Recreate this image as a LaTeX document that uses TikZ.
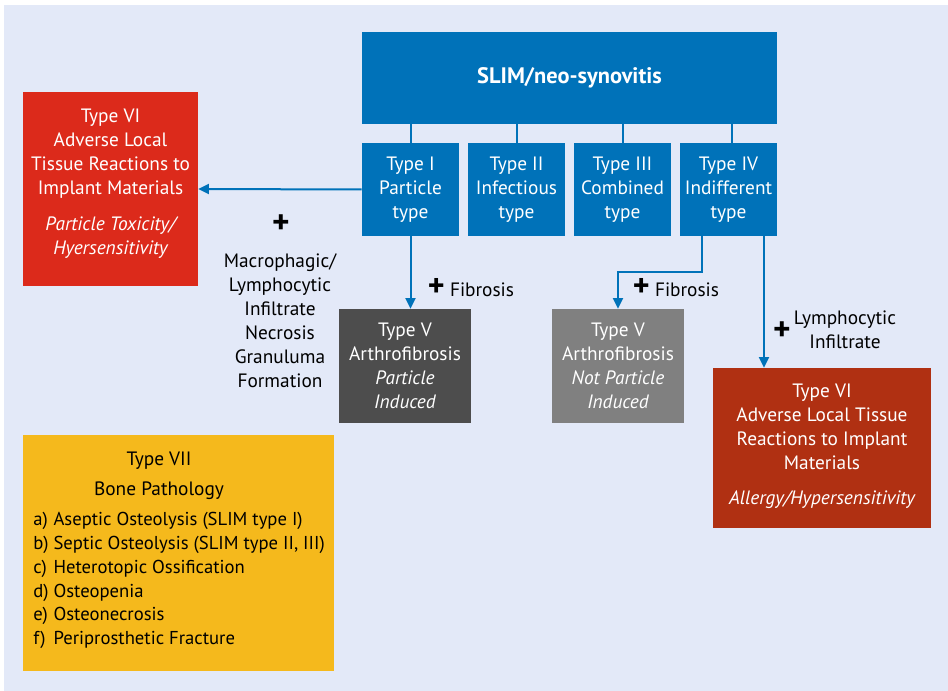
\documentclass[tikz,border=0pt]{standalone}
\usepackage{fontspec}
\setmainfont{PT Sans}
\usetikzlibrary{arrows.meta}
\definecolor{bgblue}{RGB}{227,233,248}
\definecolor{slimblue}{RGB}{0,114,185}
\definecolor{redsix}{RGB}{220,42,27}
\definecolor{rustsix}{RGB}{176,48,18}
\definecolor{darkfive}{RGB}{77,77,77}
\definecolor{grayfive}{RGB}{128,128,128}
\definecolor{yellowseven}{RGB}{245,185,28}
\newcommand{\bigplus}{{\fontsize{24}{18}\selectfont\bfseries +}}

\begin{document}
\begin{tikzpicture}[x=0.75pt,y=0.75pt,yscale=-1,xscale=1,
    box/.style={inner sep=0pt, align=center, text=white, font=\fontsize{14.5}{18}\selectfont},
    typebox/.style={box, fill=slimblue, minimum width=72.75pt, minimum height=69.75pt},
    label/.style={inner sep=0.75pt, align=center, font=\fontsize{14.5}{18}\selectfont},
    plus/.style={inner sep=0pt, font=\fontsize{25}{25}\selectfont\bfseries},
    link/.style={slimblue, line width=1.5pt},
    flow/.style={link, -{Triangle[width=7.5pt,length=8pt]}}]
    \useasboundingbox (0,0) rectangle (948,691);
    %Shape: Rectangle [background]
    \fill [bgblue] (4,5) rectangle (948,691);

    %Shape: Rectangle [SLIM]
    \node [box, fill=slimblue, minimum width=311.25pt, minimum height=69pt, font=\fontsize{16.8}{18}\selectfont\bfseries] (slim) at (569.5,78) {SLIM/neo-synovitis};
    %Shape: Rectangle [types I-IV]
    \node [typebox] (tone) at (410.5,189.5) {Type I\\Particle\\type};
    \node [typebox] (ttwo) at (516.5,189.5) {Type II\\Infectious\\type};
    \node [typebox] (tthree) at (622.5,189.5) {Type III\\Combined\\type};
    \node [typebox] (tfour) at (728.5,189.5) {Type IV\\Indifferent\\type};
    %Shape: Rectangle [type VI, left]
    \node [box, fill=redsix, minimum width=131.25pt, minimum height=145.5pt] (sixleft) at (110.5,189) {};
    \node [box] (sixlefttext) at ([yshift=-3.75pt]sixleft.center) {Type VI\\Adverse Local\\Tissue Reactions to\\Implant Materials\\[9pt]\itshape Particle Toxicity/\\\itshape Hyersensitivity};
    %Shape: Rectangle [type V]
    \node [box, fill=darkfive, minimum width=99pt, minimum height=85.5pt] (fivepart) at (405,366) {Type V\\Arthrofibrosis\\\itshape Particle\\\itshape Induced};
    \node [box, fill=grayfive, minimum width=99pt, minimum height=85.5pt] (fivenot) at (618,366) {Type V\\Arthrofibrosis\\\itshape Not Particle\\\itshape Induced};
    %Shape: Rectangle [type VI, right]
    \node [box, fill=rustsix, minimum width=163.5pt, minimum height=120pt] (sixright) at (822,448) {};
    \node [box] (sixrighttext) at ([yshift=-1.5pt]sixright.center) {Type VI\\Adverse Local Tissue\\Reactions to Implant\\Materials\\[8pt]\itshape Allergy/Hypersensitivity};
    %Shape: Rectangle [type VII]
    \node [fill=yellowseven, minimum width=233.25pt, minimum height=177pt, inner sep=0pt] (seven) at (178.5,553) {};

    %Connectors
    \foreach \t in {tone,ttwo,tthree}
        \draw [link] (\t.north) -- (\t.north |- slim.south);
    \draw [link] ([xshift=2.6pt]tfour.north) -- ([xshift=2.6pt]tfour.north |- slim.south);
    \draw [flow] (tone.west) -- (sixleft.east);
    \draw [flow] (tone.south) -- (tone.south |- fivepart.north);
    \draw [flow] ([xshift=-19.9pt]tfour.south) -- ++(0,36) -| (fivenot.north);
    \draw [flow] ([xshift=26.6pt]tfour.south) -- ([xshift=26.6pt]tfour.south |- sixright.north);

    % Text Node
    \node [plus] (plusleft) at (281,224) {+};
    % Text Node
    \node [label] (infiltrate) at (280,321) {Macrophagic/\\Lymphocytic\\Infiltrate\\Necrosis\\Granuluma\\Formation};
    % Text Node
    \node [label] (fibone) at (471,288) {\bigplus\ Fibrosis};
    % Text Node
    \node [label] (fibtwo) at (676,288) {\bigplus\ Fibrosis};
    % Text Node
    \node [plus] (plusright) at (782,331) {+};
    % Text Node
    \node [label] (lymph) at (845,330) {Lymphocytic\\Infiltrate};
    % Text Node
    \node [label, font=\fontsize{14.5}{22.5}\selectfont] (seventitle) at (159,476) {Type VII\\Bone Pathology};
    % Text Node
    \node [label, anchor=north west, inner sep=0pt, align=left, font=\fontsize{14}{17.8}\selectfont] (sevenlist) at (33,509) {%
        \begin{tabular}{@{}l@{\ }l@{}}
        a) & Aseptic Osteolysis (SLIM type I)\\
        b) & Septic Osteolysis (SLIM type II, III)\\
        c) & Heterotopic Ossification\\
        d) & Osteopenia\\
        e) & Osteonecrosis\\
        f) & Periprosthetic Fracture
        \end{tabular}};
\end{tikzpicture}
\end{document}
